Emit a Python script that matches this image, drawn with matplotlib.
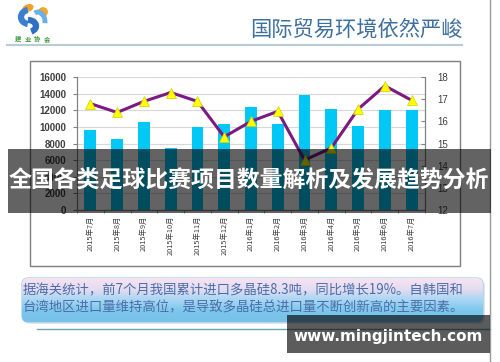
import matplotlib
matplotlib.use("Agg")
import matplotlib.pyplot as plt
import numpy as np
from matplotlib.patches import Rectangle, FancyBboxPatch, Circle, Arc, Ellipse
from matplotlib.colors import LinearSegmentedColormap

plt.rcParams['font.family'] = ['Noto Sans CJK SC', 'DejaVu Sans']

# ---- data ----
months = ["2015年7月", "2015年8月", "2015年9月", "2015年10月", "2015年11月", "2015年12月",
          "2016年1月", "2016年2月", "2016年3月", "2016年4月", "2016年5月", "2016年6月", "2016年7月"]
import_volume = [9600, 8500, 10600, 7500, 10000, 10400, 12400, 10300, 13800, 12100, 10100, 12000, 12000]
price_line = [16.8, 16.4, 16.9, 17.3, 16.9, 15.3, 16.0, 16.45, 14.25, 14.8, 16.55, 17.6, 16.95]
left_ticks = [0, 2000, 4000, 6000, 8000, 10000, 12000, 14000, 16000]
right_ticks = [12, 13, 14, 15, 16, 17, 18]

header_title = "国际贸易环境依然严峻"
banner_title = "全国各类足球比赛项目数量解析及发展趋势分析"
note_lines = ["据海关统计，前7个月我国累计进口多晶硅8.3吨，同比增长19%。自韩国和",
              "台湾地区进口量维持高位，是导致多晶硅总进口量不断创新高的主要因素。"]
watermark = "www.mingjintech.com"
logo_chars = ["建", "业", "协", "会"]

W, H = 500, 362
fig = plt.figure(figsize=(W / 100, H / 100), dpi=100)
fig.patch.set_facecolor("white")

# background decoration axes (pixel coordinates)
bg = fig.add_axes([0, 0, 1, 1], zorder=0)
bg.set_xlim(0, W)
bg.set_ylim(H, 0)
bg.axis("off")

# logo
bg.add_patch(Circle((43, 12), 4.2, color="#f5a623"))
bg.add_patch(Ellipse((28, 8), 10, 6, angle=-20, color="#f0a030"))
bg.add_patch(Arc((29, 17), 16, 14, theta1=100, theta2=260, lw=4.5, color="#3a7fd0"))
bg.add_patch(Arc((28, 26), 16, 12, theta1=-90, theta2=60, lw=4.5, color="#2f6fc4"))
bg.add_patch(Arc((38, 22), 14, 20, theta1=-110, theta2=10, lw=3.5, color="#6bb0e8"))
for i, ch in enumerate(logo_chars):
    bg.text(18 + i * 9.5, 39, ch, fontsize=4.5, color="#3a9a3a", ha="center", va="center",
            fontweight="bold")

# header title and rule
bg.text(463, 30, header_title, fontsize=15.3, color="#3d6f9f", ha="right", va="center")
bg.plot([7, 462], [45, 45], color="#b8ccd8", lw=1.5)

# right vertical line
bg.plot([490, 490], [0, H], color="#9a9a9a", lw=1)

# chart border
bg.add_patch(Rectangle((30, 61), 430, 205, fill=False, ec="#7f7f7f", lw=1))

# note box with gradient
box = FancyBboxPatch((22, 278), 461, 44, boxstyle="round,pad=0,rounding_size=6",
                     fc="none", ec="#9cc8e0", lw=0.8)
shadow = FancyBboxPatch((24, 280), 461, 44, boxstyle="round,pad=0,rounding_size=6",
                        fc="#c8d8e0", ec="none", alpha=0.6)
bg.add_patch(shadow)
bg.add_patch(box)
cmap = LinearSegmentedColormap.from_list("g", ["#f6e4f2", "#e6dcf0", "#a6d6f4", "#7cc6ec", "#78c2ea"])
grad = np.linspace(0, 1, 100).reshape(-1, 1)
im = bg.imshow(grad, cmap=cmap, aspect="auto", extent=(22, 483, 322, 278), origin="upper", zorder=1)
im.set_clip_path(box)
for i, line in enumerate(note_lines):
    bg.text(23, 290 + i * 17, line, fontsize=9.6, color="#4a6ea8", ha="left", va="center", zorder=3)
bg.plot([37, 490], [329, 329], color="#6aa8b0", lw=1)
bg.set_xlim(0, W)
bg.set_ylim(H, 0)

# ---- chart ----
ax = fig.add_axes([77 / W, 1 - 210 / H, 348 / W, 133 / H], zorder=1)
ax.patch.set_alpha(0)
x = np.arange(len(months))
ax.bar(x, import_volume, width=0.44, color="#00c8f6", zorder=2)
ax.set_xlim(-0.5, len(months) - 0.5)
ax.set_ylim(0, 16000)
ax.set_yticks(left_ticks)
ax.set_yticklabels([str(v) for v in left_ticks], fontfamily="Liberation Sans", fontsize=7,
                   color="#404040", fontweight="bold")
ax.yaxis.grid(True, color="#d8d8d8", lw=0.8, zorder=0)
ax.set_axisbelow(True)
ax.set_xticks(x)
ax.set_xticklabels(months, rotation=90, fontsize=5.3, color="#404040", va="top")
ax.set_xticks(np.arange(len(months) + 1) - 0.5, minor=True)
ax.tick_params(axis="x", which="major", length=0, pad=4)
ax.tick_params(axis="x", which="minor", length=2.5, color="#808080")
ax.tick_params(axis="y", length=3, color="#808080", pad=5)
ax.spines["top"].set_visible(False)
for s in ["left", "bottom", "right"]:
    ax.spines[s].set_color("#808080")
    ax.spines[s].set_linewidth(0.8)

ax2 = ax.twinx()
ax2.plot(x, price_line, color="#7a1a82", lw=2.2, marker="^", markersize=7,
         markerfacecolor="#ffff00", markeredgecolor="#d0d000", markeredgewidth=0.5, zorder=3)
ax2.set_ylim(12, 18)
ax2.set_yticks(right_ticks)
ax2.set_yticklabels([str(v) for v in right_ticks], fontfamily="Liberation Sans", fontsize=7,
                    color="#404040")
ax2.tick_params(axis="y", direction="in", length=3, color="#808080", pad=9)
ax2.spines["top"].set_visible(False)
for s in ["left", "bottom", "right"]:
    ax2.spines[s].set_color("#808080")
    ax2.spines[s].set_linewidth(0.8)

# ---- overlays ----
ov = fig.add_axes([0, 0, 1, 1], zorder=5)
ov.set_xlim(0, W)
ov.set_ylim(H, 0)
ov.axis("off")
ov.patch.set_alpha(0)
ov.add_patch(Rectangle((8, 149), 483, 64, color="black", alpha=0.61, lw=0))
ov.text(249, 181, banner_title, fontsize=16.5, color="white", fontweight="bold",
        ha="center", va="center")
ov.add_patch(Rectangle((287, 315), 203, 38, color="black", alpha=0.64, lw=0))
ov.text(388, 336, watermark, fontsize=11, color="white", fontweight="bold",
        ha="center", va="center", fontfamily="DejaVu Sans")

fig.savefig("out.png", dpi=100)
